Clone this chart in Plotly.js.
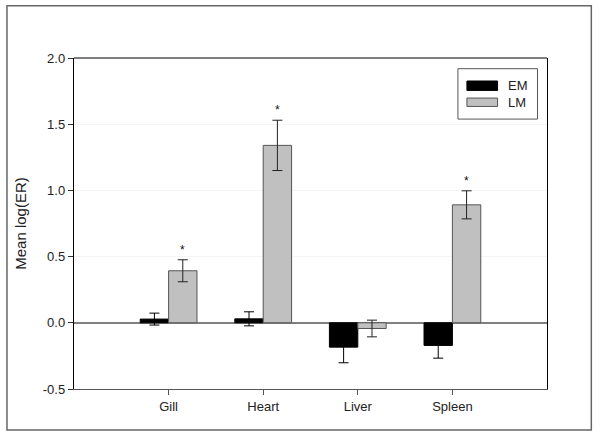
<!DOCTYPE html>
<html>
<head>
<meta charset="utf-8">
<script src="https://cdn.plot.ly/plotly-3.0.1.min.js"></script>
<style>html,body{margin:0;padding:0;background:#fff;}#chart{width:600px;height:439px;}</style>
</head>
<body>
<div id="chart"></div>
<script>
var categories = ["Gill", "Heart", "Liver", "Spleen"];
var emValues = [0.028, 0.030, -0.184, -0.171];
var emErrors = [0.045, 0.053, 0.118, 0.096];
var lmValues = [0.393, 1.340, -0.043, 0.891];
var lmErrors = [0.083, 0.190, 0.063, 0.106];
var significant = [true, true, false, true];
var yTicks = [-0.5, 0.0, 0.5, 1.0, 1.5, 2.0];
var yTickLabels = ["-0.5", "0.0", "0.5", "1.0", "1.5", "2.0"];
var seriesNames = ["EM", "LM"];

var FONT = "Liberation Sans, Arial, sans-serif";

var traces = [
  {
    type: "bar", name: seriesNames[0], x: categories, y: emValues,
    marker: {color: "#000000", line: {color: "#000000", width: 1}},
    error_y: {type: "data", array: emErrors, visible: true, color: "#000000", thickness: 1, width: 5},
    showlegend: false
  },
  {
    type: "bar", name: seriesNames[1], x: categories, y: lmValues,
    marker: {color: "#c0c0c0", line: {color: "#555555", width: 1}},
    error_y: {type: "data", array: lmErrors, visible: true, color: "#222222", thickness: 1, width: 5},
    showlegend: false
  }
];

var annotations = [];
categories.forEach(function (c, i) {
  if (significant[i]) {
    annotations.push({
      x: c, y: lmValues[i] + lmErrors[i], xref: "x", yref: "y",
      xshift: 14, yshift: 10,
      text: "*", showarrow: false, yanchor: "middle",
      font: {family: FONT, size: 12, color: "#111"}
    });
  }
});
annotations.push({xref: "paper", yref: "paper", x: 0.9125, y: 0.9163, xanchor: "left", yanchor: "middle",
  text: seriesNames[0], showarrow: false, font: {family: FONT, size: 13, color: "#222"}});
annotations.push({xref: "paper", yref: "paper", x: 0.9125, y: 0.8663, xanchor: "left", yanchor: "middle",
  text: seriesNames[1], showarrow: false, font: {family: FONT, size: 13, color: "#222"}});

var shapes = [
  {type: "rect", xref: "paper", yref: "paper", x0: -0.1417, x1: 1.0937, y0: -0.124, y1: 1.158,
   line: {color: "#666666", width: 1.5}, fillcolor: "rgba(0,0,0,0)", layer: "below"},
  {type: "line", xref: "paper", yref: "paper", x0: 0, x1: 1, y0: 1, y1: 1, line: {color: "#000", width: 1.2}},
  {type: "rect", xref: "paper", yref: "paper", x0: 0.8117, x1: 0.980, y0: 0.8155, y1: 0.9677,
   line: {color: "#555555", width: 1}, fillcolor: "#ffffff"},
  {type: "rect", xref: "paper", yref: "paper", x0: 0.8307, x1: 0.8955, y0: 0.9020, y1: 0.9305,
   line: {color: "#000", width: 1}, fillcolor: "#000000"},
  {type: "rect", xref: "paper", yref: "paper", x0: 0.8307, x1: 0.8955, y0: 0.8536, y1: 0.879,
   line: {color: "#555555", width: 1}, fillcolor: "#c0c0c0"}
];

var layout = {
  width: 600, height: 439,
  margin: {l: 74, r: 53.3, t: 58.3, b: 50, pad: 0},
  paper_bgcolor: "#ffffff", plot_bgcolor: "#ffffff",
  font: {family: FONT, size: 13, color: "#222"},
  barmode: "group", bargap: 0.4, bargroupgap: 0,
  showlegend: false,
  xaxis: {
    type: "category", range: [-1, 4], automargin: false,
    showline: true, linecolor: "#555555", linewidth: 1.2,
    ticks: "outside", ticklen: 5, tickcolor: "#555555", tickwidth: 1,
    showgrid: false, zeroline: false, fixedrange: true,
    tickfont: {size: 13, color: "#222"}
  },
  yaxis: {
    range: [-0.5, 2.0], automargin: false,
    tickvals: yTicks, ticktext: yTickLabels,
    showline: true, linecolor: "#000000", linewidth: 1.2, mirror: true,
    ticks: "outside", ticklen: 5, tickcolor: "#333333", tickwidth: 1,
    showgrid: true, gridcolor: "#f4f4f4", gridwidth: 1,
    zeroline: true, zerolinecolor: "#808080", zerolinewidth: 1.5,
    tickfont: {size: 13, color: "#222"},
    title: {text: "Mean log(ER)", font: {size: 15, color: "#222"}, standoff: 12}
  },
  shapes: shapes,
  annotations: annotations
};

Plotly.newPlot("chart", traces, layout, {displayModeBar: false, staticPlot: true});
</script>
</body>
</html>
